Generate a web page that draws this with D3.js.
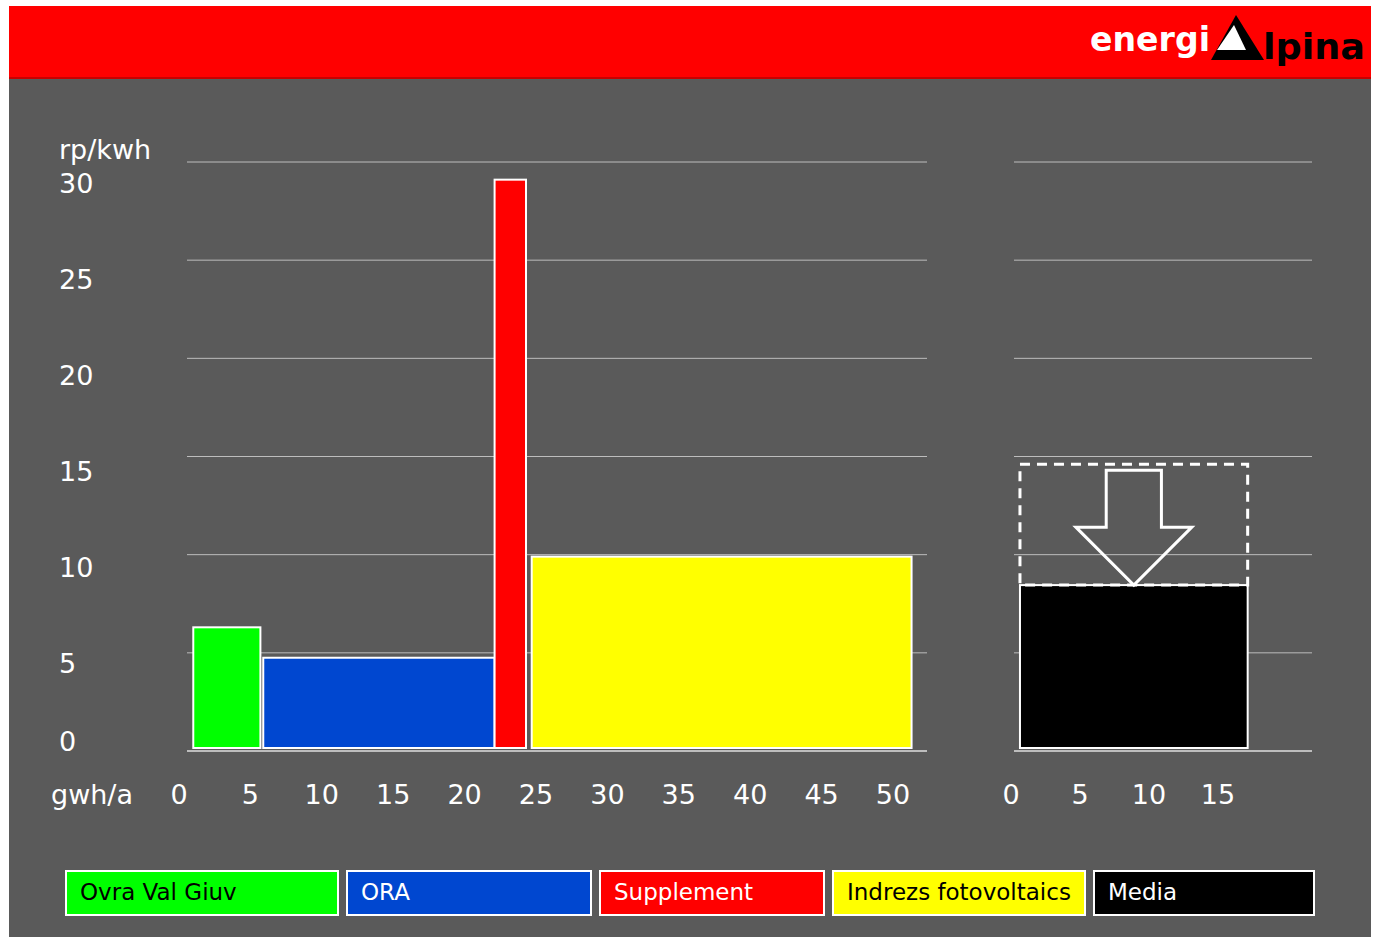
<!DOCTYPE html>
<meta charset="utf-8">
<style>
  body { margin: 0; background: #fff; }
  text { font-family: "DejaVu Sans", Verdana, sans-serif; }
</style>
<script src="https://d3js.org/d3.v7.min.js"></script>
<div id="chart"></div>
<script>

// data: the four supply blocks (gwh/a from - to, price rp/kwh)
var names    = ["Ovra Val Giuv", "ORA", "Supplement", "Indrezs fotovoltaics", "Media"];
var colors   = ["#00ff00", "#0047d0", "#ff0000", "#ffff00", "#000000"];
var txtCols  = ["#000", "#fff", "#fff", "#000", "#fff"];
var gwhFrom  = [1.0, 5.9, 22.1, 24.7];
var gwhTo    = [5.7, 22.1, 24.3, 51.3];
var price    = [6.3, 4.75, 29.1, 9.9];

// the average block on the right
var mediaFrom  = 0.65;
var mediaTo    = 17.15;
var mediaPrice = 8.45;
var oldPrice   = 14.6;   // dashed box (before)

var yTicks  = [0, 5, 10, 15, 20, 25, 30];
var xTicks  = [0, 5, 10, 15, 20, 25, 30, 35, 40, 45, 50];
var xTicksR = [0, 5, 10, 15];

var W = 1378, H = 937;

var svg = d3.select("#chart").append("svg")
  .attr("width", W).attr("height", H);

// background + header
svg.append("rect").attr("x", 9).attr("y", 6).attr("width", 1362).attr("height", H - 6)
  .attr("fill", "#5a5a5a");
svg.append("rect").attr("x", 9).attr("y", 6).attr("width", 1362).attr("height", 72)
  .attr("fill", "#ff0000");
svg.append("rect").attr("x", 9).attr("y", 77).attr("width", 1362).attr("height", 2)
  .attr("fill", "#c80000");

// logo
var logo = svg.append("g");
logo.append("text").attr("x", 1090).attr("y", 51)
  .attr("textLength", 120).attr("lengthAdjust", "spacingAndGlyphs")
  .style("font-size", "34px").style("font-weight", "bold").attr("fill", "#fff")
  .text("energi");
logo.append("polygon").attr("points", "1236,15 1211,60 1264,60").attr("fill", "#000");
logo.append("polygon").attr("points", "1234,25 1217,50 1246,50").attr("fill", "#fff");
logo.append("text").attr("x", 1263).attr("y", 59)
  .attr("textLength", 102).attr("lengthAdjust", "spacingAndGlyphs")
  .style("font-size", "36px").style("font-weight", "bold").attr("fill", "#000")
  .text("lpina");

// scales
var y = d3.scaleLinear().domain([0, 30]).range([751, 162]);
var yLab = d3.scaleLinear().domain([5, 30]).range([663, 183]);
var x = d3.scaleLinear().domain([0, 50]).range([179, 893]);
var xR = d3.scaleLinear().domain([0, 15]).range([1011, 1218]);

// gridlines
function grid(x1, x2) {
  svg.append("g").selectAll("line")
    .data(yTicks).enter().append("line")
      .attr("x1", x1).attr("x2", x2)
      .attr("y1", function(d) { return y(d); })
      .attr("y2", function(d) { return y(d); })
      .attr("stroke", "#bdbdbd")
      .attr("stroke-width", function(d) { return d === 0 ? 2 : 1; });
}
grid(187, 927);
grid(1014, 1312);

// y labels
svg.append("text").attr("x", 59).attr("y", 159).attr("fill", "#fff")
  .style("font-size", "27px").text("rp/kwh");
svg.append("g").selectAll("text")
  .data(yTicks).enter().append("text")
    .attr("x", 59)
    .attr("y", function(d) { return (d === 0 ? y(0) - 10 : yLab(d)) + 10; })
    .attr("fill", "#fff").style("font-size", "27px")
    .text(function(d) { return d; });

// x labels
svg.append("text").attr("x", 51).attr("y", 804).attr("fill", "#fff")
  .style("font-size", "27px").text("gwh/a");
svg.append("g").selectAll("text")
  .data(xTicks).enter().append("text")
    .attr("x", function(d) { return x(d); }).attr("y", 804)
    .attr("text-anchor", "middle").attr("fill", "#fff").style("font-size", "27px")
    .text(function(d) { return d; });
svg.append("g").selectAll("text")
  .data(xTicksR).enter().append("text")
    .attr("x", function(d) { return xR(d); }).attr("y", 804)
    .attr("text-anchor", "middle").attr("fill", "#fff").style("font-size", "27px")
    .text(function(d) { return d; });

// bars
var base = y(0) - 3;
svg.append("g").selectAll("rect")
  .data(price).enter().append("rect")
    .attr("x", function(d, i) { return x(gwhFrom[i]); })
    .attr("y", function(d) { return y(d); })
    .attr("width", function(d, i) { return x(gwhTo[i]) - x(gwhFrom[i]); })
    .attr("height", function(d) { return base - y(d); })
    .attr("fill", function(d, i) { return colors[i]; })
    .attr("stroke", "#fff").attr("stroke-width", 2);

// media block
svg.append("rect")
  .attr("x", xR(mediaFrom)).attr("y", y(mediaPrice))
  .attr("width", xR(mediaTo) - xR(mediaFrom))
  .attr("height", base - y(mediaPrice))
  .attr("fill", colors[4]).attr("stroke", "#fff").attr("stroke-width", 2);

// dashed old level
svg.append("rect")
  .attr("x", xR(mediaFrom)).attr("y", y(oldPrice))
  .attr("width", xR(mediaTo) - xR(mediaFrom))
  .attr("height", y(mediaPrice) - y(oldPrice))
  .attr("fill", "none").attr("stroke", "#fff").attr("stroke-width", 3)
  .attr("stroke-dasharray", "10,7");

// arrow pointing down
var cx = (mediaFrom + mediaTo) / 2;
var arrow = [
  [cx - 2.0, oldPrice - 0.3], [cx + 2.0, oldPrice - 0.3],
  [cx + 2.0, 11.4], [cx + 4.2, 11.4],
  [cx, mediaPrice],
  [cx - 4.2, 11.4], [cx - 2.0, 11.4]
];
svg.append("path")
  .attr("d", d3.line().x(function(p) { return xR(p[0]); }).y(function(p) { return y(p[1]); })(arrow) + "Z")
  .attr("fill", "none").attr("stroke", "#fff").attr("stroke-width", 3)
  .attr("stroke-linejoin", "miter");

// legend
var legW = [274, 246, 226, 254, 222];
var lx = 65;
names.forEach(function(n, i) {
  var g = svg.append("g").attr("transform", "translate(" + lx + ",870)");
  g.append("rect").attr("x", 1).attr("y", 1).attr("width", legW[i] - 2).attr("height", 44)
    .attr("fill", colors[i]).attr("stroke", "#fff").attr("stroke-width", 2);
  g.append("text").attr("x", 15).attr("y", 30)
    .attr("fill", txtCols[i]).style("font-size", "23px").text(n);
  lx += legW[i] + 7;
});

</script>
